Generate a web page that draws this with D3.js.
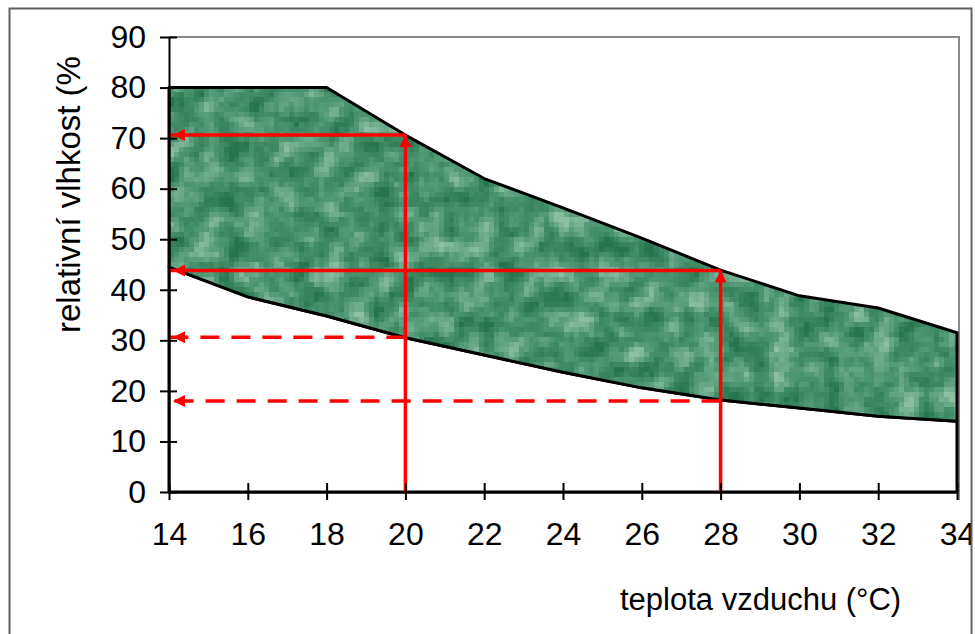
<!DOCTYPE html>
<html>
<head>
<meta charset="utf-8">
<script src="https://cdn.jsdelivr.net/npm/d3@7"></script>
<style>
  body { margin: 0; background: #fff; }
  svg { display: block; font-family: "Liberation Sans", Arial, sans-serif; }
  .axis path, .axis line { stroke: #000; stroke-width: 2; }
  .axis text { font-size: 32px; fill: #000; }
</style>
</head>
<body>
<div id="chart"></div>
<script>
// teplota vzduchu (°C) and boundaries of the comfort zone (% rel. humidity)
const temps = [14, 16, 18, 20, 22, 24, 26, 28, 30, 32, 34];
const upperRH = [80, 80, 80, 70.6, 62, 56.2, 50.2, 43.9, 38.8, 36.4, 31.5];
const lowerRH = [44.5, 38.6, 34.8, 30.5, 27.1, 23.7, 20.6, 18.2, 16.6, 15, 14];

const xTicks = [14, 16, 18, 20, 22, 24, 26, 28, 30, 32, 34];
const yTicks = [0, 10, 20, 30, 40, 50, 60, 70, 80, 90];

// reading lines: [x from, y from, x to, y to]
const solidArrows = [
    [20, 0, 20, 70.6],
    [20, 70.6, 14, 70.6],
    [28, 0, 28, 43.8],
    [28, 43.8, 14, 43.8]
];
const dashedArrows = [
    [20, 30.6, 14, 30.6],
    [28, 18, 14, 18]
];

const W = 975, H = 634;
const margin = { top: 37, right: 18, bottom: 142, left: 169 };
const width = W - margin.left - margin.right;
const height = H - margin.top - margin.bottom;

const svg = d3.select("#chart").append("svg")
    .attr("width", W)
    .attr("height", H);

const defs = svg.append("defs");

defs.append("clipPath").attr("id", "frameClip")
    .append("rect").attr("x", 10).attr("y", 9).attr("width", 961).attr("height", 640);

// mottled green texture, a bit blocky like the original fill
const f = defs.append("filter").attr("id", "camo")
    .attr("filterUnits", "userSpaceOnUse")
    .attr("primitiveUnits", "userSpaceOnUse")
    .attr("x", 0).attr("y", 0)
    .attr("width", width).attr("height", height);
f.append("feTurbulence")
    .attr("type", "fractalNoise")
    .attr("baseFrequency", "0.04")
    .attr("numOctaves", 4)
    .attr("seed", 11);
f.append("feColorMatrix")
    .attr("type", "matrix")
    .attr("values", "1 0 0 0 0  1 0 0 0 0  1 0 0 0 0  0 0 0 0 1");
const stretch = f.append("feComponentTransfer");
["feFuncR", "feFuncG", "feFuncB"].forEach(n =>
    stretch.append(n).attr("type", "linear").attr("slope", 1.7).attr("intercept", -0.4));
const tint = f.append("feComponentTransfer").attr("result", "tex");
tint.append("feFuncR").attr("type", "table").attr("tableValues", "0.02 0.04 0.06 0.10 0.17 0.27");
tint.append("feFuncG").attr("type", "table").attr("tableValues", "0.18 0.23 0.28 0.34 0.43 0.53");
tint.append("feFuncB").attr("type", "table").attr("tableValues", "0.08 0.11 0.15 0.20 0.28 0.37");
f.append("feFlood").attr("x", 2).attr("y", 2).attr("width", 1).attr("height", 1).attr("flood-color", "#000");
f.append("feComposite").attr("x", 0).attr("y", 0).attr("width", 5).attr("height", 5);
f.append("feTile").attr("result", "dots");
f.append("feComposite").attr("in", "tex").attr("in2", "dots").attr("operator", "in");
f.append("feMorphology").attr("operator", "dilate").attr("radius", 2);

function arrowMarker(id, back) {
    defs.append("marker")
        .attr("id", id)
        .attr("markerUnits", "userSpaceOnUse")
        .attr("viewBox", "0 0 12 12")
        .attr("markerWidth", 12).attr("markerHeight", 12)
        .attr("refX", 12 + back).attr("refY", 6)
        .attr("orient", "auto")
        .append("path")
        .attr("d", "M0,0 L12,6 L0,12 Z")
        .attr("fill", "#ff0000");
}
arrowMarker("arrUp", 0);
arrowMarker("arrLeft", 4);

const root = svg.append("g").attr("clip-path", "url(#frameClip)");

const x = d3.scaleLinear().domain([14, 34]).range([0, width]);
const y = d3.scaleLinear().domain([0, 90]).range([height, 0]);

const g = root.append("g")
    .attr("transform", `translate(${margin.left},${margin.top})`);

// outer frame
svg.append("rect")
    .attr("x", 9.5).attr("y", 8.5)
    .attr("width", 962).attr("height", 660)
    .attr("fill", "none")
    .attr("stroke", "#606060")
    .attr("stroke-width", 2);

// plot area border (top + right)
g.append("path")
    .attr("d", `M0,0 H${width + 2} V${height + 8}`)
    .attr("fill", "none")
    .attr("stroke", "#8a8a8a")
    .attr("stroke-width", 2);

const rows = temps.map((t, i) => ({ t: t, lo: lowerRH[i], hi: upperRH[i] }));

// lower (white) band
const lowArea = d3.area()
    .x(d => x(d.t))
    .y0(y(0))
    .y1(d => y(d.lo));
g.append("path")
    .datum(rows)
    .attr("d", lowArea)
    .attr("fill", "#fff")
    .attr("stroke", "#000")
    .attr("stroke-width", 3)
    .attr("stroke-linejoin", "round");

// comfort zone band
const band = d3.area()
    .x(d => x(d.t))
    .y0(d => y(d.lo))
    .y1(d => y(d.hi));

defs.append("clipPath").attr("id", "bandClip")
    .append("path").datum(rows)
    .attr("d", band);

// fallback colour under the texture
g.append("path")
    .datum(rows)
    .attr("d", band)
    .attr("fill", "#1c5a33");

g.append("rect")
    .attr("width", width).attr("height", height)
    .attr("clip-path", "url(#bandClip)")
    .attr("filter", "url(#camo)");

g.append("path")
    .datum(rows)
    .attr("d", band)
    .attr("fill", "none")
    .attr("stroke", "#000")
    .attr("stroke-width", 3)
    .attr("stroke-linejoin", "round");

// red reading arrows
function drawArrows(list, dashed) {
    g.selectAll(null)
        .data(list)
        .enter().append("line")
        .attr("x1", d => x(d[0])).attr("y1", d => y(d[1]))
        .attr("x2", d => x(d[2])).attr("y2", d => y(d[3]))
        .attr("stroke", "#ff0000")
        .attr("stroke-width", 3.5)
        .attr("stroke-dasharray", dashed ? "19,12" : null)
        .attr("marker-end", d => d[0] === d[2] ? "url(#arrUp)" : "url(#arrLeft)");
}
drawArrows(solidArrows, false);
drawArrows(dashedArrows, true);

// axes
const yAxis = g.append("g").attr("class", "axis")
    .call(d3.axisLeft(y).tickValues(yTicks).tickSize(9).tickPadding(14).tickSizeOuter(0));
yAxis.selectAll(".tick line").attr("x1", 8);

const xAxis = g.append("g").attr("class", "axis")
    .attr("transform", `translate(0,${height})`)
    .call(d3.axisBottom(x).tickValues(xTicks).tickSize(8).tickPadding(22).tickSizeOuter(0));
xAxis.selectAll(".tick line").attr("y1", -9);

// axis titles
root.append("text")
    .attr("x", 620).attr("y", 610)
    .attr("font-size", 31)
    .text("teplota vzduchu (°C)");

defs.append("clipPath").attr("id", "labelClip")
    .append("rect").attr("x", 0).attr("y", 56).attr("width", 150).attr("height", 400);

root.append("g")
    .attr("clip-path", "url(#labelClip)")
    .append("text")
    .attr("transform", "translate(80,333) rotate(-90)")
    .attr("font-size", 33)
    .text("relativní vlhkost (%)");
</script>
</body>
</html>
